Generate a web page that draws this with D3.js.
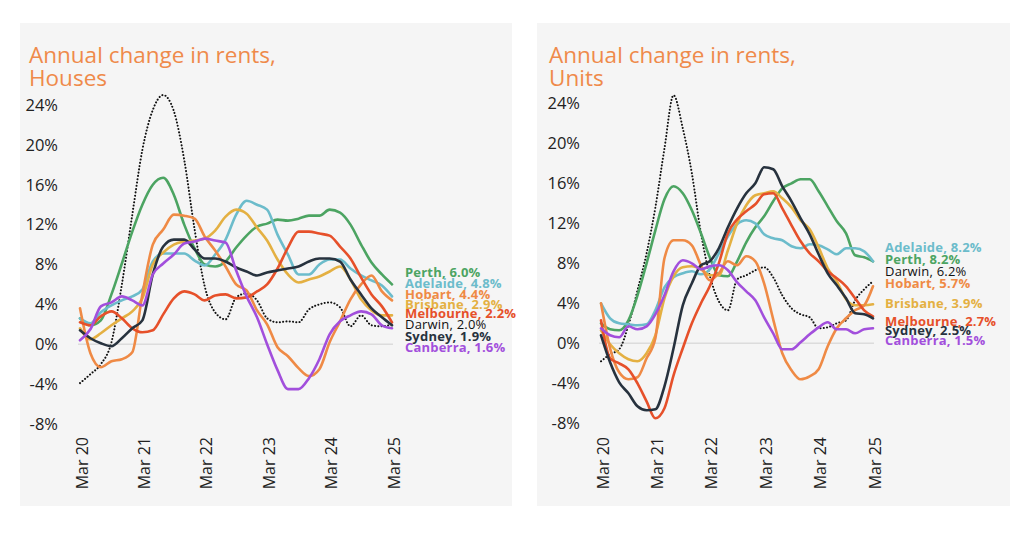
<!DOCTYPE html>
<meta charset="utf-8">
<style>
body { margin: 0; background: #fff; }
svg { display: block; font-family: "Open Sans", sans-serif; }
.panel { fill: #f5f5f5; }
.title { fill: #ef8a4a; font-size: 22.5px; }
.tick-y { fill: #222; font-size: 16.5px; text-anchor: end; }
.tick-x { fill: #222; font-size: 16px; text-anchor: end; }
.zero { stroke: #dcdcdc; stroke-width: 1.5; }
.series { fill: none; stroke-width: 2.6; stroke-linejoin: round; stroke-linecap: round; }
.darwin { stroke-width: 2; stroke-dasharray: 0.1 3.2; }
.lbl { font-size: 13px; font-weight: 700; letter-spacing: 0.2px; }
</style>
<svg width="1024" height="546"></svg>
<script src="https://d3js.org/d3.v7.min.js"></script>
<script>

// bimonthly, Mar 2020 .. Mar 2025
var dates = d3.timeMonth.every(2).range(new Date(2020, 2, 1), new Date(2025, 3, 1));
var tickDates = [new Date(2020, 2, 1), new Date(2021, 2, 1), new Date(2022, 2, 1),
                 new Date(2023, 2, 1), new Date(2024, 2, 1), new Date(2025, 2, 1)];
var tickLabels = ["Mar 20", "Mar 21", "Mar 22", "Mar 23", "Mar 24", "Mar 25"];
var yTicks = [-8, -4, 0, 4, 8, 12, 16, 20, 24];

var colors = {
  Perth: "#4ca462", Adelaide: "#6cbccb", Hobart: "#ef8a45", Brisbane: "#e4b042",
  Melbourne: "#e6502a", Darwin: "#111111", Sydney: "#27323e", Canberra: "#a24fdc"
};

// houses, annual change %
var housesPerth     = [2.6,1.9,2.4,5.0,8.1,11.3,14.0,16.0,16.7,15.0,12.0,9.6,8.0,7.8,8.3,9.7,10.9,11.8,12.1,12.5,12.4,12.6,12.9,12.9,13.5,13.2,12.0,10.0,8.2,7.0,6.0];
var housesAdelaide  = [2.6,2.1,3.2,3.9,4.4,4.8,5.5,8.3,9.1,9.1,9.1,8.4,7.9,9.0,10.5,13.0,14.4,14.0,13.5,11.0,9.0,7.0,7.0,8.0,8.5,8.5,7.6,6.9,6.4,5.9,4.8];
var housesHobart    = [3.6,-0.9,-2.3,-1.7,-1.5,-0.8,5.0,10.0,11.5,13.0,12.9,12.6,10.8,9.4,7.8,6.0,5.4,3.4,2.0,-0.3,-1.2,-2.4,-3.2,-2.5,0.2,2.3,4.5,6.0,6.9,5.3,4.4];
var housesBrisbane  = [1.6,0.5,1.1,1.9,2.6,3.3,4.6,8.0,9.2,10.0,10.3,10.4,10.6,11.4,12.8,13.5,13.1,11.7,10.4,8.5,7.0,6.2,6.5,6.8,7.3,7.8,6.5,4.5,3.4,2.9,2.9];
var housesMelbourne = [2.2,1.9,2.8,3.3,2.6,1.6,1.2,1.4,3.0,4.6,5.3,5.0,4.4,4.9,5.0,4.6,4.7,5.3,6.0,7.6,9.7,11.3,11.3,11.1,10.9,9.8,8.6,6.7,5.0,3.8,2.2];
var housesDarwin    = [-3.9,-3.0,-2.0,0.2,6.0,13.0,19.5,23.5,25.0,23.4,18.5,11.5,5.8,3.2,2.5,4.7,5.1,4.4,2.6,2.2,2.3,2.2,3.5,4.0,4.2,3.7,1.8,2.9,1.9,1.8,2.0];
var housesSydney    = [1.4,0.6,0.1,-0.2,0.6,1.6,2.4,7.0,9.8,10.5,10.5,9.5,8.6,8.6,8.3,7.7,7.3,6.9,7.2,7.4,7.6,7.8,8.3,8.6,8.6,8.3,6.5,5.0,3.6,2.7,1.9];
var housesCanberra  = [0.4,1.5,3.8,4.2,4.8,4.4,3.9,7.0,8.1,9.0,10.1,10.3,10.6,10.4,10.2,7.4,4.8,2.7,0.0,-2.6,-4.5,-4.5,-3.4,-1.5,1.0,2.3,2.9,3.3,3.0,1.9,1.6];

// units, annual change %
var unitsPerth     = [2.0,1.4,1.3,2.3,4.8,8.0,11.3,14.4,15.7,15.0,13.3,11.0,8.6,6.8,6.7,8.2,10.1,11.6,12.7,14.2,15.5,16.0,16.4,16.4,15.2,13.7,12.2,11.0,8.8,8.6,8.2];
var unitsAdelaide  = [4.0,2.5,2.0,1.9,1.8,1.9,3.3,5.6,6.6,7.0,7.2,6.9,7.4,9.0,10.7,11.9,12.3,12.0,10.9,10.5,10.3,9.7,9.5,9.9,9.8,9.4,8.9,9.5,9.5,9.2,8.2];
var unitsHobart    = [4.0,-0.5,-2.9,-3.6,-3.4,-1.5,0.5,8.5,10.3,10.3,9.8,7.8,6.3,7.0,8.2,7.8,8.7,8.2,6.0,2.4,-1.0,-2.7,-3.6,-3.3,-2.6,-0.3,1.5,2.5,3.3,3.8,5.7];
var unitsBrisbane  = [1.3,-0.1,-1.0,-1.6,-1.8,-1.0,0.8,4.5,6.7,7.6,7.7,7.4,6.8,6.8,9.3,12.0,13.8,14.8,15.0,15.2,14.5,13.6,12.3,11.4,9.6,7.5,6.2,4.4,3.8,3.8,3.9];
var unitsMelbourne = [2.3,-1.5,-2.0,-2.6,-4.0,-5.8,-7.5,-6.5,-3.2,-0.5,2.0,4.0,5.7,8.0,11.0,12.4,13.2,13.9,14.9,15.0,13.5,11.8,10.2,9.0,8.2,7.2,6.5,5.7,4.5,3.3,2.7];
var unitsDarwin    = [-1.8,-1.1,-0.6,1.8,5.3,9.0,13.6,19.5,24.8,21.5,17.0,11.0,6.8,4.2,3.3,6.4,6.8,7.3,7.6,6.6,4.8,3.5,2.9,2.6,1.5,1.6,2.0,2.3,4.3,5.4,6.2];
var unitsSydney    = [0.8,-1.9,-3.9,-5.0,-6.3,-6.7,-6.6,-4.3,-0.5,3.8,6.0,7.8,8.2,9.5,11.6,13.5,15.0,16.0,17.6,17.4,15.7,14.2,12.5,10.9,8.9,7.0,5.8,4.5,3.0,2.9,2.5];
var unitsCanberra  = [1.5,0.8,0.6,1.7,1.4,1.7,2.9,4.8,7.2,8.3,8.0,7.4,7.7,7.8,7.3,6.1,5.2,4.3,2.6,1.0,-0.6,-0.6,0.1,0.9,1.6,2.1,1.4,1.4,1.0,1.4,1.5];

// legend order and where each label sits (in % on the y axis)
var housesLegend = ["Perth", "Adelaide", "Hobart", "Brisbane", "Melbourne", "Darwin", "Sydney", "Canberra"];
var housesLabelAt = [7.2, 6.1, 5.0, 4.0, 3.1, 2.0, 0.8, -0.3];
var unitsLegend = ["Adelaide", "Perth", "Darwin", "Hobart", "Brisbane", "Melbourne", "Sydney", "Canberra"];
var unitsLabelAt = [9.6, 8.4, 7.2, 6.0, 4.0, 2.2, 1.3, 0.3];

var drawOrder = ["Darwin", "Perth", "Adelaide", "Brisbane", "Hobart", "Melbourne", "Sydney", "Canberra"];

var charts = [
  {
    title: ["Annual change in rents,", "Houses"],
    panel: [20, 23, 492, 483], titleX: 29, yLabelX: 58, labelX: 405,
    xRange: [80, 392], yRange: [424, 105], zero: [78, 393],
    values: { Perth: housesPerth, Adelaide: housesAdelaide, Hobart: housesHobart, Brisbane: housesBrisbane,
              Melbourne: housesMelbourne, Darwin: housesDarwin, Sydney: housesSydney, Canberra: housesCanberra },
    legend: housesLegend, labelAt: housesLabelAt
  },
  {
    title: ["Annual change in rents,", "Units"],
    panel: [537, 23, 473, 483], titleX: 549, yLabelX: 580, labelX: 885,
    xRange: [601, 873], yRange: [423.3, 103.3], zero: [599, 874],
    values: { Perth: unitsPerth, Adelaide: unitsAdelaide, Hobart: unitsHobart, Brisbane: unitsBrisbane,
              Melbourne: unitsMelbourne, Darwin: unitsDarwin, Sydney: unitsSydney, Canberra: unitsCanberra },
    legend: unitsLegend, labelAt: unitsLabelAt
  }
];

var svg = d3.select("svg");
var fmt = d3.format(".1f");

charts.forEach(function(c) {
  var g = svg.append("g");

  g.append("rect").attr("class", "panel")
      .attr("x", c.panel[0]).attr("y", c.panel[1])
      .attr("width", c.panel[2]).attr("height", c.panel[3]);

  g.append("text").attr("class", "title")
      .attr("x", c.titleX).attr("y", 63)
    .selectAll("tspan")
    .data(c.title)
    .enter().append("tspan")
      .attr("x", c.titleX)
      .attr("dy", function(d, i) { return i ? 22.5 : 0; })
      .text(function(d) { return d; });

  var x = d3.scaleTime().domain([dates[0], dates[dates.length - 1]]).range(c.xRange),
      y = d3.scaleLinear().domain([-8, 24]).range(c.yRange);

  g.selectAll(".tick-y")
    .data(yTicks)
    .enter().append("text")
      .attr("class", "tick-y")
      .attr("x", c.yLabelX)
      .attr("y", function(d) { return y(d); })
      .attr("dy", "0.35em")
      .text(function(d) { return d + "%"; });

  g.selectAll(".tick-x")
    .data(tickDates)
    .enter().append("text")
      .attr("class", "tick-x")
      .attr("transform", function(d) { return "translate(" + (x(d) + 2) + ",437) rotate(-90)"; })
      .attr("dy", "0.35em")
      .text(function(d, i) { return tickLabels[i]; });

  g.append("line").attr("class", "zero")
      .attr("x1", c.zero[0]).attr("x2", c.zero[1])
      .attr("y1", y(0)).attr("y2", y(0));

  var line = d3.line()
      .x(function(d, i) { return x(dates[i]); })
      .y(function(d) { return y(d); })
      .curve(d3.curveMonotoneX);

  g.selectAll(".series")
    .data(drawOrder)
    .enter().append("path")
      .attr("class", function(d) { return d == "Darwin" ? "series darwin" : "series"; })
      .attr("stroke", function(d) { return colors[d]; })
      .attr("d", function(d) { return line(c.values[d]); });

  g.selectAll(".lbl")
    .data(c.legend)
    .enter().append("text")
      .attr("class", "lbl")
      .attr("x", c.labelX)
      .attr("y", function(d, i) { return y(c.labelAt[i]); })
      .attr("dy", "0.35em")
      .attr("fill", function(d) { return colors[d]; })
      .style("font-weight", function(d) { return d == "Darwin" ? 400 : 700; })
      .text(function(d) {
        var v = c.values[d];
        return d + ", " + fmt(v[v.length - 1]) + "%";
      });
});

</script>
